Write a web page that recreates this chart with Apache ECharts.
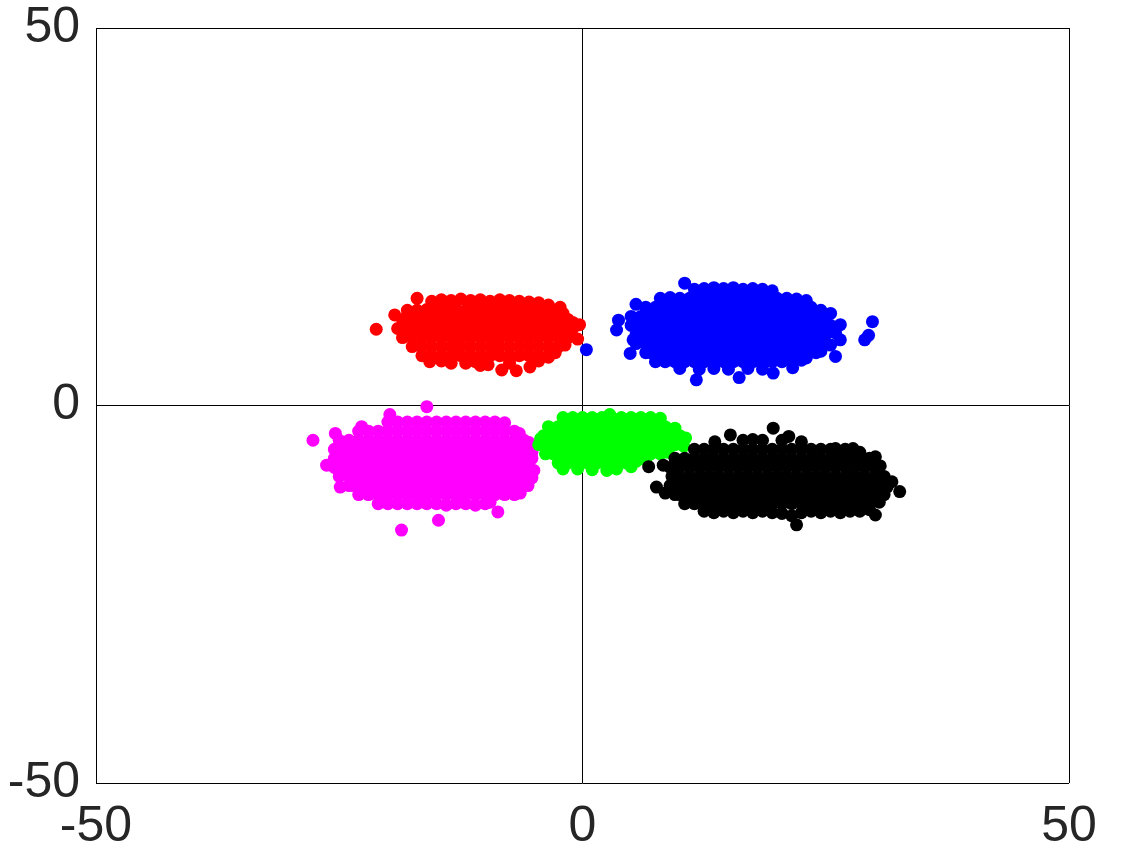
<!DOCTYPE html>
<html>
<head>
<meta charset="utf-8">
<script src="https://cdn.jsdelivr.net/npm/echarts@6/dist/echarts.min.js"></script>
<style>
  html, body { margin: 0; padding: 0; background: #fff; }
  #chart { width: 1128px; height: 864px; }
</style>
</head>
<body>
<div id="chart"></div>
<script>
// axis ticks
const xTicks = [-50, 0, 50]
const yTicks = [-50, 0, 50]

// cluster points, [x, y]
const redPts = [
  [-21.2, 10.1], [-19.3, 12.0], [-17.0, 14.2],
  [-15.5, 13.8], [-14.5, 14.0], [-13.5, 13.9], [-12.5, 14.1], [-11.5, 13.9], [-10.5, 14.0], [-9.5, 13.8], [-8.5, 14.0], [-7.5, 13.9], [-6.5, 13.8], [-5.5, 13.7], [-4.5, 13.6], [-3.5, 13.3],
  [-18.0, 12.6], [-17.0, 12.6], [-16.0, 12.7], [-15.0, 12.6], [-14.0, 12.6], [-13.0, 12.7], [-12.0, 12.6], [-11.0, 12.6], [-10.0, 12.7], [-9.0, 12.6], [-8.0, 12.6], [-7.0, 12.7], [-6.0, 12.6], [-5.0, 12.6], [-4.0, 12.6], [-3.0, 12.5], [-2.3, 13.0], [-2.0, 12.2],
  [-18.5, 11.4], [-17.5, 11.4], [-16.5, 11.4], [-15.5, 11.4], [-14.5, 11.4], [-13.5, 11.4], [-12.5, 11.4], [-11.5, 11.4], [-10.5, 11.4], [-9.5, 11.4], [-8.5, 11.4], [-7.5, 11.4], [-6.5, 11.4], [-5.5, 11.4], [-4.5, 11.4], [-3.5, 11.4], [-2.5, 11.4], [-1.5, 11.4], [-1.0, 11.0],
  [-19.0, 10.2], [-18.0, 10.2], [-17.0, 10.2], [-16.0, 10.2], [-15.0, 10.2], [-14.0, 10.2], [-13.0, 10.2], [-12.0, 10.2], [-11.0, 10.2], [-10.0, 10.2], [-9.0, 10.2], [-8.0, 10.2], [-7.0, 10.2], [-6.0, 10.2], [-5.0, 10.2], [-4.0, 10.2], [-3.0, 10.2], [-2.0, 10.2], [-1.0, 10.2], [-0.3, 10.7],
  [-18.5, 9.0], [-17.5, 9.0], [-16.5, 9.0], [-15.5, 9.0], [-14.5, 9.0], [-13.5, 9.0], [-12.5, 9.0], [-11.5, 9.0], [-10.5, 9.0], [-9.5, 9.0], [-8.5, 9.0], [-7.5, 9.0], [-6.5, 9.0], [-5.5, 9.0], [-4.5, 9.0], [-3.5, 9.0], [-2.5, 9.0], [-1.5, 9.0], [-0.5, 8.8],
  [-17.5, 7.8], [-16.5, 7.8], [-15.5, 7.8], [-14.5, 7.8], [-13.5, 7.8], [-12.5, 7.8], [-11.5, 7.8], [-10.5, 7.8], [-9.5, 7.8], [-8.5, 7.8], [-7.5, 7.8], [-6.5, 7.8], [-5.5, 7.8], [-4.5, 7.8], [-3.5, 7.8], [-2.5, 7.8], [-1.8, 8.0],
  [-16.5, 6.6], [-15.5, 6.6], [-14.5, 6.6], [-13.5, 6.6], [-12.5, 6.6], [-11.5, 6.6], [-10.5, 6.6], [-9.5, 6.6], [-8.5, 6.6], [-7.5, 6.6], [-6.5, 6.6], [-5.5, 6.6], [-4.5, 6.6], [-3.5, 6.6], [-2.8, 7.0],
  [-15.7, 5.8], [-14.5, 5.9], [-13.5, 5.6], [-12.0, 5.6], [-11.0, 5.8], [-10.5, 5.3], [-9.7, 5.4], [-8.3, 4.7], [-7.5, 5.6], [-6.8, 4.6], [-5.4, 5.1], [-4.5, 5.9], [-3.5, 6.4]
]

const bluePts = [
  [0.4, 7.4], [3.7, 11.3], [3.5, 10.0], [4.9, 6.9], [5.2, 8.7], [29.8, 11.1], [29.4, 9.3], [29.0, 8.7], [26.5, 10.7], [26.5, 8.7], [26.0, 6.5], [10.5, 16.2],
  [11.5, 15.4], [12.5, 15.5], [13.5, 15.6], [14.5, 15.5], [15.5, 15.6], [16.5, 15.4], [17.5, 15.5], [18.5, 15.4], [19.5, 15.2],
  [8.0, 14.2], [9.0, 14.3], [10.0, 14.2], [11.0, 14.2], [12.0, 14.2], [13.0, 14.2], [14.0, 14.2], [15.0, 14.2], [16.0, 14.2], [17.0, 14.2], [18.0, 14.2], [19.0, 14.2], [20.0, 14.2], [21.0, 14.2], [22.0, 14.1], [23.0, 13.9],
  [5.5, 13.4], [6.5, 13.0], [7.5, 13.0], [8.5, 13.0], [9.5, 13.0], [10.5, 13.0], [11.5, 13.0], [12.5, 13.0], [13.5, 13.0], [14.5, 13.0], [15.5, 13.0], [16.5, 13.0], [17.5, 13.0], [18.5, 13.0], [19.5, 13.0], [20.5, 13.0], [21.5, 13.0], [22.5, 13.0], [23.5, 13.0], [24.5, 12.6],
  [5.0, 11.8], [6.0, 11.8], [7.0, 11.8], [8.0, 11.8], [9.0, 11.8], [10.0, 11.8], [11.0, 11.8], [12.0, 11.8], [13.0, 11.8], [14.0, 11.8], [15.0, 11.8], [16.0, 11.8], [17.0, 11.8], [18.0, 11.8], [19.0, 11.8], [20.0, 11.8], [21.0, 11.8], [22.0, 11.8], [23.0, 11.8], [24.0, 11.8], [25.0, 11.8], [25.5, 12.2],
  [5.0, 10.6], [5.5, 10.6], [6.5, 10.6], [7.5, 10.6], [8.5, 10.6], [9.5, 10.6], [10.5, 10.6], [11.5, 10.6], [12.5, 10.6], [13.5, 10.6], [14.5, 10.6], [15.5, 10.6], [16.5, 10.6], [17.5, 10.6], [18.5, 10.6], [19.5, 10.6], [20.5, 10.6], [21.5, 10.6], [22.5, 10.6], [23.5, 10.6], [24.5, 10.6], [25.5, 10.6],
  [5.5, 9.4], [6.0, 9.4], [7.0, 9.4], [8.0, 9.4], [9.0, 9.4], [10.0, 9.4], [11.0, 9.4], [12.0, 9.4], [13.0, 9.4], [14.0, 9.4], [15.0, 9.4], [16.0, 9.4], [17.0, 9.4], [18.0, 9.4], [19.0, 9.4], [20.0, 9.4], [21.0, 9.4], [22.0, 9.4], [23.0, 9.4], [24.0, 9.4], [25.0, 9.4], [26.0, 9.6],
  [5.5, 8.2], [6.5, 8.2], [7.5, 8.2], [8.5, 8.2], [9.5, 8.2], [10.5, 8.2], [11.5, 8.2], [12.5, 8.2], [13.5, 8.2], [14.5, 8.2], [15.5, 8.2], [16.5, 8.2], [17.5, 8.2], [18.5, 8.2], [19.5, 8.2], [20.5, 8.2], [21.5, 8.2], [22.5, 8.2], [23.5, 8.2], [24.5, 8.2], [25.5, 8.0],
  [6.5, 7.0], [7.0, 7.0], [8.0, 7.0], [9.0, 7.0], [10.0, 7.0], [11.0, 7.0], [12.0, 7.0], [13.0, 7.0], [14.0, 7.0], [15.0, 7.0], [16.0, 7.0], [17.0, 7.0], [18.0, 7.0], [19.0, 7.0], [20.0, 7.0], [21.0, 7.0], [22.0, 7.0], [23.0, 7.0], [24.0, 7.0], [24.5, 7.2],
  [7.5, 5.8], [8.5, 5.8], [9.5, 5.8], [10.5, 5.8], [11.5, 5.8], [12.5, 5.8], [13.5, 5.8], [14.5, 5.8], [15.5, 5.8], [16.5, 5.8], [17.5, 5.8], [18.5, 5.8], [19.5, 5.8], [20.5, 5.8], [21.5, 5.8], [22.5, 6.0], [23.0, 6.3],
  [10.0, 4.9], [12.0, 4.8], [13.5, 4.9], [15.0, 4.8], [17.0, 4.9], [18.5, 4.8], [21.6, 5.0], [11.7, 3.4], [16.1, 3.7], [19.6, 4.3]
]

const magentaPts = [
  [-16.0, -0.15], [-19.8, -1.2], [-27.7, -4.6], [-25.4, -3.7], [-22.7, -2.8], [-26.3, -7.9], [-24.9, -10.8], [-8.7, -14.1], [-14.8, -15.2], [-18.6, -16.5],
  [-20.0, -2.2], [-19.0, -2.2], [-18.0, -2.2], [-17.0, -2.2], [-16.0, -2.2], [-15.0, -2.2], [-14.0, -2.2], [-13.0, -2.2], [-12.0, -2.2], [-11.0, -2.2], [-10.0, -2.2], [-9.0, -2.2], [-8.0, -2.3],
  [-23.0, -3.4], [-22.0, -3.4], [-21.0, -3.4], [-20.0, -3.4], [-19.0, -3.4], [-18.0, -3.4], [-17.0, -3.4], [-16.0, -3.4], [-15.0, -3.4], [-14.0, -3.4], [-13.0, -3.4], [-12.0, -3.4], [-11.0, -3.4], [-10.0, -3.4], [-9.0, -3.4], [-8.0, -3.4], [-7.0, -3.4], [-6.5, -3.7],
  [-25.0, -4.6], [-24.0, -4.6], [-23.0, -4.6], [-22.0, -4.6], [-21.0, -4.6], [-20.0, -4.6], [-19.0, -4.6], [-18.0, -4.6], [-17.0, -4.6], [-16.0, -4.6], [-15.0, -4.6], [-14.0, -4.6], [-13.0, -4.6], [-12.0, -4.6], [-11.0, -4.6], [-10.0, -4.6], [-9.0, -4.6], [-8.0, -4.6], [-7.0, -4.6], [-6.0, -4.6], [-5.5, -4.9],
  [-25.5, -5.8], [-24.5, -5.8], [-23.5, -5.8], [-22.5, -5.8], [-21.5, -5.8], [-20.5, -5.8], [-19.5, -5.8], [-18.5, -5.8], [-17.5, -5.8], [-16.5, -5.8], [-15.5, -5.8], [-14.5, -5.8], [-13.5, -5.8], [-12.5, -5.8], [-11.5, -5.8], [-10.5, -5.8], [-9.5, -5.8], [-8.5, -5.8], [-7.5, -5.8], [-6.5, -5.8], [-5.5, -5.8], [-5.2, -6.2],
  [-25.5, -7.0], [-25.0, -7.0], [-24.0, -7.0], [-23.0, -7.0], [-22.0, -7.0], [-21.0, -7.0], [-20.0, -7.0], [-19.0, -7.0], [-18.0, -7.0], [-17.0, -7.0], [-16.0, -7.0], [-15.0, -7.0], [-14.0, -7.0], [-13.0, -7.0], [-12.0, -7.0], [-11.0, -7.0], [-10.0, -7.0], [-9.0, -7.0], [-8.0, -7.0], [-7.0, -7.0], [-6.0, -7.0], [-5.2, -7.0],
  [-25.5, -8.2], [-24.5, -8.2], [-23.5, -8.2], [-22.5, -8.2], [-21.5, -8.2], [-20.5, -8.2], [-19.5, -8.2], [-18.5, -8.2], [-17.5, -8.2], [-16.5, -8.2], [-15.5, -8.2], [-14.5, -8.2], [-13.5, -8.2], [-12.5, -8.2], [-11.5, -8.2], [-10.5, -8.2], [-9.5, -8.2], [-8.5, -8.2], [-7.5, -8.2], [-6.5, -8.2], [-5.5, -8.2], [-5.0, -8.6],
  [-25.0, -9.4], [-24.0, -9.4], [-23.0, -9.4], [-22.0, -9.4], [-21.0, -9.4], [-20.0, -9.4], [-19.0, -9.4], [-18.0, -9.4], [-17.0, -9.4], [-16.0, -9.4], [-15.0, -9.4], [-14.0, -9.4], [-13.0, -9.4], [-12.0, -9.4], [-11.0, -9.4], [-10.0, -9.4], [-9.0, -9.4], [-8.0, -9.4], [-7.0, -9.4], [-6.0, -9.4], [-5.2, -9.6],
  [-24.0, -10.6], [-23.5, -10.6], [-22.5, -10.6], [-21.5, -10.6], [-20.5, -10.6], [-19.5, -10.6], [-18.5, -10.6], [-17.5, -10.6], [-16.5, -10.6], [-15.5, -10.6], [-14.5, -10.6], [-13.5, -10.6], [-12.5, -10.6], [-11.5, -10.6], [-10.5, -10.6], [-9.5, -10.6], [-8.5, -10.6], [-7.5, -10.6], [-6.5, -10.6], [-5.6, -10.6],
  [-23.0, -11.8], [-22.0, -11.8], [-21.0, -11.8], [-20.0, -11.8], [-19.0, -11.8], [-18.0, -11.8], [-17.0, -11.8], [-16.0, -11.8], [-15.0, -11.8], [-14.0, -11.8], [-13.0, -11.8], [-12.0, -11.8], [-11.0, -11.8], [-10.0, -11.8], [-9.0, -11.8], [-8.0, -11.8], [-7.0, -11.8], [-6.4, -11.6],
  [-21.0, -13.0], [-20.0, -13.0], [-19.0, -13.0], [-18.0, -13.0], [-17.0, -13.0], [-16.0, -13.0], [-15.0, -13.0], [-14.0, -13.2], [-13.0, -13.0], [-12.0, -13.0], [-11.0, -13.2], [-10.0, -13.0], [-9.5, -12.8]
]

const greenPts = [
  [2.8, -1.2], [-4.3, -4.4],
  [-2.0, -1.6], [-1.0, -1.6], [0.0, -1.6], [1.0, -1.6], [2.0, -1.6], [3.0, -1.6], [4.0, -1.6], [5.0, -1.6], [6.0, -1.6], [7.0, -1.6], [8.0, -1.7],
  [-3.5, -2.8], [-2.5, -2.8], [-1.5, -2.8], [-0.5, -2.8], [0.5, -2.8], [1.5, -2.8], [2.5, -2.8], [3.5, -2.8], [4.5, -2.8], [5.5, -2.8], [6.5, -2.8], [7.5, -2.8], [8.5, -2.8], [9.5, -3.0],
  [-4.0, -4.0], [-3.0, -4.0], [-2.0, -4.0], [-1.0, -4.0], [0.0, -4.0], [1.0, -4.0], [2.0, -4.0], [3.0, -4.0], [4.0, -4.0], [5.0, -4.0], [6.0, -4.0], [7.0, -4.0], [8.0, -4.0], [9.0, -4.0], [10.0, -4.0], [10.6, -4.3],
  [-4.5, -5.2], [-3.5, -5.2], [-2.5, -5.2], [-1.5, -5.2], [-0.5, -5.2], [0.5, -5.2], [1.5, -5.2], [2.5, -5.2], [3.5, -5.2], [4.5, -5.2], [5.5, -5.2], [6.5, -5.2], [7.5, -5.2], [8.5, -5.2], [9.5, -5.2], [10.4, -5.4],
  [-3.8, -6.4], [-3.0, -6.4], [-2.0, -6.4], [-1.0, -6.4], [0.0, -6.4], [1.0, -6.4], [2.0, -6.4], [3.0, -6.4], [4.0, -6.4], [5.0, -6.4], [6.0, -6.4], [7.0, -6.4], [8.0, -6.4], [8.8, -6.2],
  [-2.5, -7.6], [-1.5, -7.6], [-0.5, -7.6], [0.5, -7.6], [1.5, -7.6], [2.5, -7.6], [3.5, -7.6], [4.5, -7.6], [5.5, -7.4], [6.5, -7.2],
  [-2.0, -8.4], [-0.5, -8.4], [1.0, -8.5], [2.5, -8.6], [3.5, -8.4], [5.0, -8.1]
]

const blackPts = [
  [6.8, -8.1], [8.3, -7.9], [7.6, -10.8], [8.5, -11.6], [31.8, -10.1], [32.6, -11.4], [30.1, -14.5], [22.0, -15.8], [19.6, -3.0],
  [13.6, -4.8], [15.2, -3.9], [16.5, -4.6], [17.5, -4.5], [18.5, -4.6], [20.5, -4.6], [21.2, -4.1], [22.5, -4.8],
  [11.5, -5.8], [12.5, -5.8], [13.5, -5.8], [14.5, -5.8], [15.5, -5.8], [16.5, -5.8], [17.5, -5.8], [18.5, -5.8], [19.5, -5.8], [20.5, -5.8], [21.5, -5.8], [22.5, -5.8], [23.5, -5.8], [24.5, -5.8], [25.5, -5.8], [26.0, -5.7], [27.0, -5.8], [27.8, -5.7], [28.5, -6.2],
  [9.5, -7.0], [10.5, -7.0], [11.5, -7.0], [12.5, -7.0], [13.5, -7.0], [14.5, -7.0], [15.5, -7.0], [16.5, -7.0], [17.5, -7.0], [18.5, -7.0], [19.5, -7.0], [20.5, -7.0], [21.5, -7.0], [22.5, -7.0], [23.5, -7.0], [24.5, -7.0], [25.5, -7.0], [26.5, -7.0], [27.5, -7.0], [28.5, -7.0], [29.5, -7.0], [30.1, -6.8],
  [9.0, -8.2], [10.0, -8.2], [11.0, -8.2], [12.0, -8.2], [13.0, -8.2], [14.0, -8.2], [15.0, -8.2], [16.0, -8.2], [17.0, -8.2], [18.0, -8.2], [19.0, -8.2], [20.0, -8.2], [21.0, -8.2], [22.0, -8.2], [23.0, -8.2], [24.0, -8.2], [25.0, -8.2], [26.0, -8.2], [27.0, -8.2], [28.0, -8.2], [29.0, -8.2], [30.0, -8.2], [30.6, -8.0],
  [9.2, -9.4], [10.0, -9.4], [11.0, -9.4], [12.0, -9.4], [13.0, -9.4], [14.0, -9.4], [15.0, -9.4], [16.0, -9.4], [17.0, -9.4], [18.0, -9.4], [19.0, -9.4], [20.0, -9.4], [21.0, -9.4], [22.0, -9.4], [23.0, -9.4], [24.0, -9.4], [25.0, -9.4], [26.0, -9.4], [27.0, -9.4], [28.0, -9.4], [29.0, -9.4], [30.0, -9.4], [31.0, -9.4],
  [9.0, -10.6], [9.5, -10.6], [10.5, -10.6], [11.5, -10.6], [12.5, -10.6], [13.5, -10.6], [14.5, -10.6], [15.5, -10.6], [16.5, -10.6], [17.5, -10.6], [18.5, -10.6], [19.5, -10.6], [20.5, -10.6], [21.5, -10.6], [22.5, -10.6], [23.5, -10.6], [24.5, -10.6], [25.5, -10.6], [26.5, -10.6], [27.5, -10.6], [28.5, -10.6], [29.5, -10.6], [30.5, -10.6], [31.3, -10.8],
  [9.5, -11.8], [10.0, -11.8], [11.0, -11.8], [12.0, -11.8], [13.0, -11.8], [14.0, -11.8], [15.0, -11.8], [16.0, -11.8], [17.0, -11.8], [18.0, -11.8], [19.0, -11.8], [20.0, -11.8], [21.0, -11.8], [22.0, -11.8], [23.0, -11.8], [24.0, -11.8], [25.0, -11.8], [26.0, -11.8], [27.0, -11.8], [28.0, -11.8], [29.0, -11.8], [30.0, -11.8], [31.0, -11.8],
  [10.5, -13.0], [11.5, -13.0], [12.5, -13.0], [13.5, -13.0], [14.5, -13.0], [15.5, -13.0], [16.5, -13.0], [17.5, -13.0], [18.5, -13.0], [19.5, -13.0], [20.5, -13.0], [21.5, -13.0], [22.5, -13.0], [23.5, -13.0], [24.5, -13.0], [25.5, -13.0], [26.5, -13.0], [27.5, -13.0], [28.5, -13.0], [29.5, -13.0], [30.5, -12.8],
  [12.5, -14.0], [13.5, -14.2], [14.5, -14.0], [15.5, -14.2], [16.5, -14.0], [17.5, -14.2], [18.5, -14.0], [19.5, -14.2], [20.5, -14.3], [21.5, -14.6], [22.5, -14.2], [23.5, -14.0], [24.5, -14.2], [25.5, -14.0], [26.5, -14.2], [27.5, -14.0], [28.5, -14.0], [29.5, -13.8]
]

const chart = echarts.init(document.getElementById('chart'), null, { renderer: 'canvas' })

const axisCommon = {
  type: 'value',
  min: -50,
  max: 50,
  interval: 50,
  axisLine: { show: false },
  axisTick: { show: false },
  splitLine: { show: true, lineStyle: { color: '#000', width: 1 } },
}
const labelFont = { fontSize: 50, color: '#262626', fontFamily: 'Liberation Sans, Arial, sans-serif' }

function dotSeries(data, color) {
  return {
    type: 'scatter',
    data: data,
    symbol: 'circle',
    symbolSize: 13,
    itemStyle: { color: color, opacity: 1 },
    silent: true,
  }
}

chart.setOption({
  animation: false,
  backgroundColor: '#fff',
  grid: { left: 96, right: 59, top: 28, bottom: 81 },
  xAxis: Object.assign({}, axisCommon, {
    axisLabel: Object.assign({ margin: 19, formatter: (v) => (xTicks.includes(v) ? String(v) : '') }, labelFont),
  }),
  yAxis: Object.assign({}, axisCommon, {
    axisLabel: Object.assign({ margin: 16, formatter: (v) => (yTicks.includes(v) ? String(v) : '') }, labelFont),
  }),
  series: [
    dotSeries(redPts, '#ff0000'),
    dotSeries(magentaPts, '#ff00ff'),
    dotSeries(greenPts, '#00ff00'),
    dotSeries(blackPts, '#000000'),
    dotSeries(bluePts, '#0000ff'),
  ],
})
</script>
</body>
</html>
